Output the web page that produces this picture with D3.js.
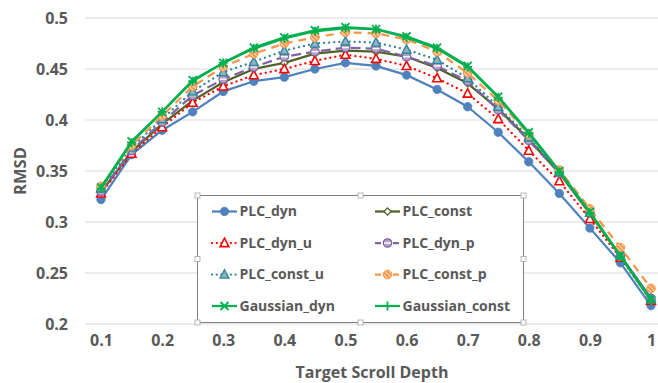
<!DOCTYPE html>
<html><head><meta charset="utf-8">
<script src="https://cdn.jsdelivr.net/npm/d3@7"></script>
<style>
html,body{margin:0;padding:0;background:#fff;}
svg{display:block;}
text{font-family:"Open Sans","Liberation Sans",sans-serif;font-weight:bold;fill:#595959;}
</style></head>
<body>
<svg id="chart" width="658" height="383"></svg>
<script>
const categories = [0.1,0.15,0.2,0.25,0.3,0.35,0.4,0.45,0.5,0.55,0.6,0.65,0.7,0.75,0.8,0.85,0.9,0.95,1];
const xTickLabels = ["0.1","0.2","0.3","0.4","0.5","0.6","0.7","0.8","0.9","1"];
const yTicks = [0.2,0.25,0.3,0.35,0.4,0.45,0.5];

const PLC_dyn        = [0.322,0.366,0.390,0.408,0.428,0.438,0.442,0.450,0.456,0.453,0.444,0.430,0.413,0.388,0.359,0.328,0.294,0.260,0.218];
const PLC_const      = [0.329,0.369,0.396,0.419,0.437,0.450,0.456,0.465,0.468,0.467,0.462,0.451,0.436,0.411,0.381,0.348,0.308,0.267,0.225];
const PLC_dyn_u      = [0.328,0.367,0.393,0.417,0.433,0.444,0.450,0.458,0.464,0.460,0.453,0.441,0.426,0.401,0.370,0.340,0.303,0.265,0.223];
const PLC_dyn_p      = [0.330,0.370,0.398,0.424,0.440,0.452,0.462,0.467,0.471,0.470,0.462,0.453,0.438,0.410,0.380,0.348,0.309,0.267,0.225];
const PLC_const_u    = [0.333,0.373,0.401,0.428,0.447,0.457,0.468,0.475,0.477,0.476,0.469,0.459,0.441,0.413,0.383,0.349,0.309,0.267,0.225];
const PLC_const_p    = [0.335,0.375,0.404,0.433,0.452,0.465,0.475,0.481,0.486,0.485,0.479,0.467,0.446,0.419,0.386,0.351,0.313,0.275,0.235];
const Gaussian_dyn   = [0.334,0.379,0.408,0.439,0.456,0.471,0.481,0.488,0.491,0.489,0.482,0.471,0.453,0.423,0.388,0.350,0.310,0.267,0.224];
const Gaussian_const = [0.333,0.378,0.408,0.438,0.456,0.470,0.480,0.487,0.490,0.489,0.481,0.470,0.452,0.422,0.387,0.349,0.309,0.266,0.223];

const seriesNames = ["PLC_dyn","PLC_const","PLC_dyn_u","PLC_dyn_p","PLC_const_u","PLC_const_p","Gaussian_dyn","Gaussian_const"];
const seriesValues = [PLC_dyn,PLC_const,PLC_dyn_u,PLC_dyn_p,PLC_const_u,PLC_const_p,Gaussian_dyn,Gaussian_const];

const styles = {
  PLC_dyn:        {color:"#4F81BD", dash:null, marker:"circleFill"},
  PLC_const:      {color:"#4F6228", dash:null, marker:"diamond"},
  PLC_dyn_u:      {color:"#FF0000", dash:"0.1 5", cap:"round", marker:"triOpen"},
  PLC_dyn_p:      {color:"#8064A2", dash:"10 5", marker:"circleLine"},
  PLC_const_u:    {color:"#31859C", dash:"0.1 5", cap:"round", marker:"triFill"},
  PLC_const_p:    {color:"#F79646", dash:"8 6", marker:"circleHatch"},
  Gaussian_dyn:   {color:"#00B050", dash:null, marker:"x"},
  Gaussian_const: {color:"#00B050", dash:null, marker:"plus"}
};

const svg = d3.select("#chart");
const defs = svg.append("defs");
const pat = defs.append("pattern").attr("id","hatch").attr("patternUnits","userSpaceOnUse")
  .attr("width",3).attr("height",3).attr("patternTransform","rotate(-45)");
pat.append("rect").attr("width",3).attr("height",3).attr("fill","#F79646");
pat.append("line").attr("x1",0).attr("y1",0).attr("x2",0).attr("y2",3).attr("stroke","#fff").attr("stroke-width",1.4);

const x = d3.scalePoint().domain(categories).range([101,651]);
const y = d3.scaleLinear().domain([0.2,0.5]).range([324,18]);
const gridLeft = 85, gridRight = 658;

// gridlines
svg.append("g").selectAll("line").data(yTicks).join("line")
  .attr("x1",gridLeft).attr("x2",gridRight)
  .attr("y1",d=>y(d)).attr("y2",d=>y(d))
  .attr("stroke","#D9D9D9").attr("stroke-width",1);

// y labels
const yAxis = d3.axisLeft(y).tickValues(yTicks).tickSize(0).tickPadding(0).tickFormat(d=>String(+d.toFixed(2)));
const gy = svg.append("g").attr("transform","translate(68,0)").call(yAxis);
gy.select(".domain").remove();
gy.selectAll("text").attr("font-size",16).attr("fill","#595959").attr("font-family","'Open Sans',sans-serif").attr("font-weight","bold").attr("dy","0.35em");

// x labels
const labelCats = categories.filter((c,i)=>i%2===0);
const xAxis = d3.axisBottom(x).tickValues(labelCats).tickSize(0).tickPadding(0)
  .tickFormat((d,i)=>xTickLabels[i]);
const gx = svg.append("g").attr("transform","translate(0,340)").call(xAxis);
gx.select(".domain").remove();
gx.selectAll("text").attr("font-size",16).attr("fill","#595959").attr("font-family","'Open Sans',sans-serif").attr("font-weight","bold").attr("dy","0.35em");

// axis titles
svg.append("text").attr("x",(x(0.5)+x(0.6))/2 - 4).attr("y",372).attr("text-anchor","middle")
  .attr("dy","0.35em").attr("font-size",16).text("Target Scroll Depth");
svg.append("text").attr("transform","translate(20,171) rotate(-90)").attr("text-anchor","middle")
  .attr("dy","0.35em").attr("font-size",16.5).text("RMSD");

function drawMarker(g, type, color, cx, cy){
  const s = g.append("g").attr("transform",`translate(${cx},${cy})`);
  switch(type){
    case "circleFill":
      s.append("circle").attr("r",4.2).attr("fill",color).attr("stroke",color).attr("stroke-width",0.8); break;
    case "diamond":
      s.append("path").attr("d","M0,-3.6L3.6,0L0,3.6L-3.6,0Z").attr("fill","#fff").attr("stroke",color).attr("stroke-width",1.3); break;
    case "triOpen":
      s.append("path").attr("d","M0,-4.8L4.4,3.6L-4.4,3.6Z").attr("fill","#fff").attr("stroke",color).attr("stroke-width",1.6); break;
    case "triFill":
      s.append("path").attr("d","M0,-4.8L4.4,3.6L-4.4,3.6Z").attr("fill","#8EB4C3").attr("stroke",color).attr("stroke-width",1.4); break;
    case "circleLine":
      s.append("circle").attr("r",4.2).attr("fill","#B3A2C7").attr("stroke",color).attr("stroke-width",1.3);
      s.append("line").attr("x1",-3.5).attr("x2",3.5).attr("y1",0).attr("y2",0).attr("stroke","#fff").attr("stroke-width",1.4); break;
    case "circleHatch":
      s.append("circle").attr("r",4.3).attr("fill","url(#hatch)").attr("stroke",color).attr("stroke-width",1); break;
    case "x":
      s.append("path").attr("d","M-4,-4L4,4M-4,4L4,-4").attr("stroke",color).attr("stroke-width",1.8); break;
    case "plus":
      s.append("path").attr("d","M-4.5,0L4.5,0M0,-4.5L0,4.5").attr("stroke",color).attr("stroke-width",1.8); break;
  }
}

const line = d3.line().x((d,i)=>x(categories[i])).y(d=>y(d));

seriesNames.forEach((name,k)=>{
  const st = styles[name];
  const g = svg.append("g");
  g.append("path").datum(seriesValues[k]).attr("d",line).attr("fill","none")
    .attr("stroke",st.color).attr("stroke-width",2.25)
    .attr("stroke-dasharray",st.dash).attr("stroke-linecap",st.cap||"butt").attr("stroke-linejoin","round");
  seriesValues[k].forEach((v,i)=>drawMarker(g, st.marker, st.color, x(categories[i]), y(v)));
});

// legend
const lg = svg.append("g");
const box = {x0:197.5, y0:195.5, x1:523.5, y1:322.5};
lg.append("rect").attr("x",box.x0).attr("y",box.y0).attr("width",box.x1-box.x0).attr("height",box.y1-box.y0)
  .attr("fill","#fff").attr("stroke","#7F7F7F").attr("stroke-width",1);
const rowsY = [211.5,243,274.5,306];
const colX = [212,375];
seriesNames.forEach((name,k)=>{
  const st = styles[name];
  const cx = colX[k%2], cy = rowsY[Math.floor(k/2)];
  lg.append("line").attr("x1",cx).attr("x2",cx+25).attr("y1",cy).attr("y2",cy)
    .attr("stroke",st.color).attr("stroke-width",2.25)
    .attr("stroke-dasharray",st.dash ? (st.cap ? "0.1 4.6" : "6 3") : null).attr("stroke-linecap",st.cap||"butt");
  drawMarker(lg, st.marker, st.color, cx+12.5, cy);
  lg.append("text").attr("x",cx+27.5).attr("y",cy).attr("dy","0.35em").attr("font-size",14).text(name);
});
// selection handles
const hx = [box.x0,(box.x0+box.x1)/2,box.x1], hy=[box.y0,(box.y0+box.y1)/2,box.y1];
hx.forEach((px,i)=>hy.forEach((py,j)=>{
  if(i===1&&j===1) return;
  lg.append("rect").attr("x",px-2.5).attr("y",py-2.5).attr("width",5).attr("height",5)
    .attr("fill","#fff").attr("stroke","#A6A6A6").attr("stroke-width",0.8);
}));
</script>
</body></html>
